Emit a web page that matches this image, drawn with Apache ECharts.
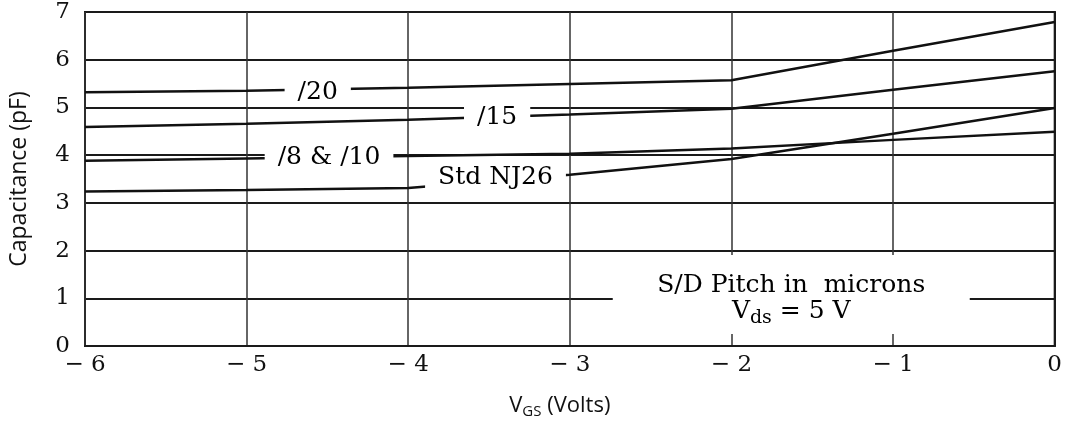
<!DOCTYPE html>
<html>
<head>
<meta charset="utf-8">
<script src="https://cdn.jsdelivr.net/npm/echarts@6/dist/echarts.min.js"></script>
<style>
html,body{margin:0;padding:0;background:#fff;}
#chart{width:1065px;height:424px;}
</style>
</head>
<body>
<div id="chart"></div>
<script>
// ---- data ----
const xValues = [-6, -5, -4, -3, -2, -1, 0];
const pitch20 = [5.32, 5.35, 5.41, 5.49, 5.57, 6.19, 6.79];
const pitch15 = [4.59, 4.66, 4.74, 4.85, 4.97, 5.37, 5.76];
const pitch8and10 = [3.88, 3.93, 3.98, 4.03, 4.14, 4.32, 4.49];
const stdNJ26 = [3.24, 3.27, 3.31, 3.59, 3.92, 4.45, 4.99];

const curveNames = ['/20', '/15', '/8 & /10', 'Std NJ26'];
const curveLabelX = [-4.56, -3.45, -4.49, -3.46];
const curveLabelY = [5.32, 4.78, 3.96, 3.53];

const noteTitle = 'S/D Pitch in  microns';
const noteMain = 'V';
const noteSub = 'ds';
const noteTail = ' = 5 V';
const noteX = -1.63;
const noteY = 1.08;

const xTitleMain = 'V';
const xTitleSub = 'GS';
const xTitleTail = ' (Volts)';
const yTitle = 'Capacitance (pF)';

const xMin = -6, xMax = 0, yMin = 0, yMax = 7;

// ---- chart ----
const chart = echarts.init(document.getElementById('chart'));
const serif = 'DejaVu Serif';
const sans = 'Open Sans';

function lineSeries(values) {
  return {
    type: 'line',
    data: xValues.map((x, i) => [x, values[i]]),
    showSymbol: false,
    symbol: 'none',
    lineStyle: { color: '#111', width: 2.5 },
    z: 2,
    silent: true,
    animation: false
  };
}

const labelBase = {
  show: true, position: 'inside', opacity: 1,
  textBorderWidth: 0, textBorderColor: 'transparent',
  backgroundColor: '#ffffff'
};

const option = {
  animation: false,
  backgroundColor: '#fff',
  grid: {
    left: 85, right: 7, top: 12, bottom: 77,
    show: true, borderColor: '#1a1a1a', borderWidth: 2, backgroundColor: 'transparent'
  },
  xAxis: {
    type: 'value', min: xMin, max: xMax, interval: 1,
    axisLine: { show: true, lineStyle: { color: '#1a1a1a', width: 2 } },
    axisTick: { show: false },
    splitLine: { show: true, lineStyle: { color: '#333', width: 1.5 } },
    axisLabel: {
      fontFamily: serif, fontSize: 23, color: '#111', margin: 8,
      formatter: v => v < 0 ? '\u2212 ' + Math.abs(v) : String(v)
    },
    nameLocation: 'middle', nameGap: 46,
    nameTextStyle: {
      padding: [0, 20, 0, 0],
      rich: {
        a: { fontFamily: sans, fontSize: 22, color: '#111' },
        s: { fontFamily: sans, fontSize: 15, color: '#111', padding: [12, 0, 0, 0] }
      }
    }
  },
  yAxis: {
    type: 'value', min: yMin, max: yMax, interval: 1,
    axisLine: { show: true, lineStyle: { color: '#1a1a1a', width: 2 } },
    axisTick: { show: false },
    splitLine: { show: true, lineStyle: { color: '#1a1a1a', width: 2 } },
    axisLabel: {
      fontFamily: serif, fontSize: 23, color: '#111', margin: 15, padding: [6, 0, 0, 0]
    },
    name: yTitle,
    nameLocation: 'middle', nameGap: 54, nameRotate: 90,
    nameTextStyle: { fontFamily: sans, fontSize: 23, color: '#111' }
  },
  series: [
    lineSeries(pitch20),
    lineSeries(pitch15),
    lineSeries(pitch8and10),
    lineSeries(stdNJ26),
    {
      type: 'scatter',
      z: 6,
      silent: true,
      symbolSize: 0,
      itemStyle: { color: '#ffffff', opacity: 1 },
      data: curveNames.map((n, i) => [curveLabelX[i], curveLabelY[i], n]),
      label: Object.assign({}, labelBase, {
        formatter: p => p.data[2],
        fontFamily: serif, fontSize: 25, color: '#000',
        padding: [1, 13, 1, 13], lineHeight: 26
      })
    },
    {
      type: 'scatter',
      z: 6,
      silent: true,
      symbolSize: 0,
      itemStyle: { color: '#ffffff', opacity: 1 },
      data: [[noteX, noteY]],
      label: Object.assign({}, labelBase, {
        formatter: () => '{t|' + noteTitle + '}\n{v|' + noteMain + '}{s|' + noteSub + '}{v|' + noteTail + '}',
        width: 357, align: 'center',
        padding: [18, 0, 9, 0],
        rich: {
          t: { fontFamily: serif, fontSize: 25, color: '#000', lineHeight: 26, align: 'center' },
          v: { fontFamily: serif, fontSize: 25, color: '#000', lineHeight: 26, align: 'center' },
          s: { fontFamily: serif, fontSize: 19, color: '#000', lineHeight: 26, padding: [12, 0, 0, 0], align: 'center' }
        }
      })
    }
  ]
};
option.xAxis.name = '{a|' + xTitleMain + '}{s|' + xTitleSub + '}{a|' + xTitleTail + '}';
chart.setOption(option);
</script>
</body>
</html>
